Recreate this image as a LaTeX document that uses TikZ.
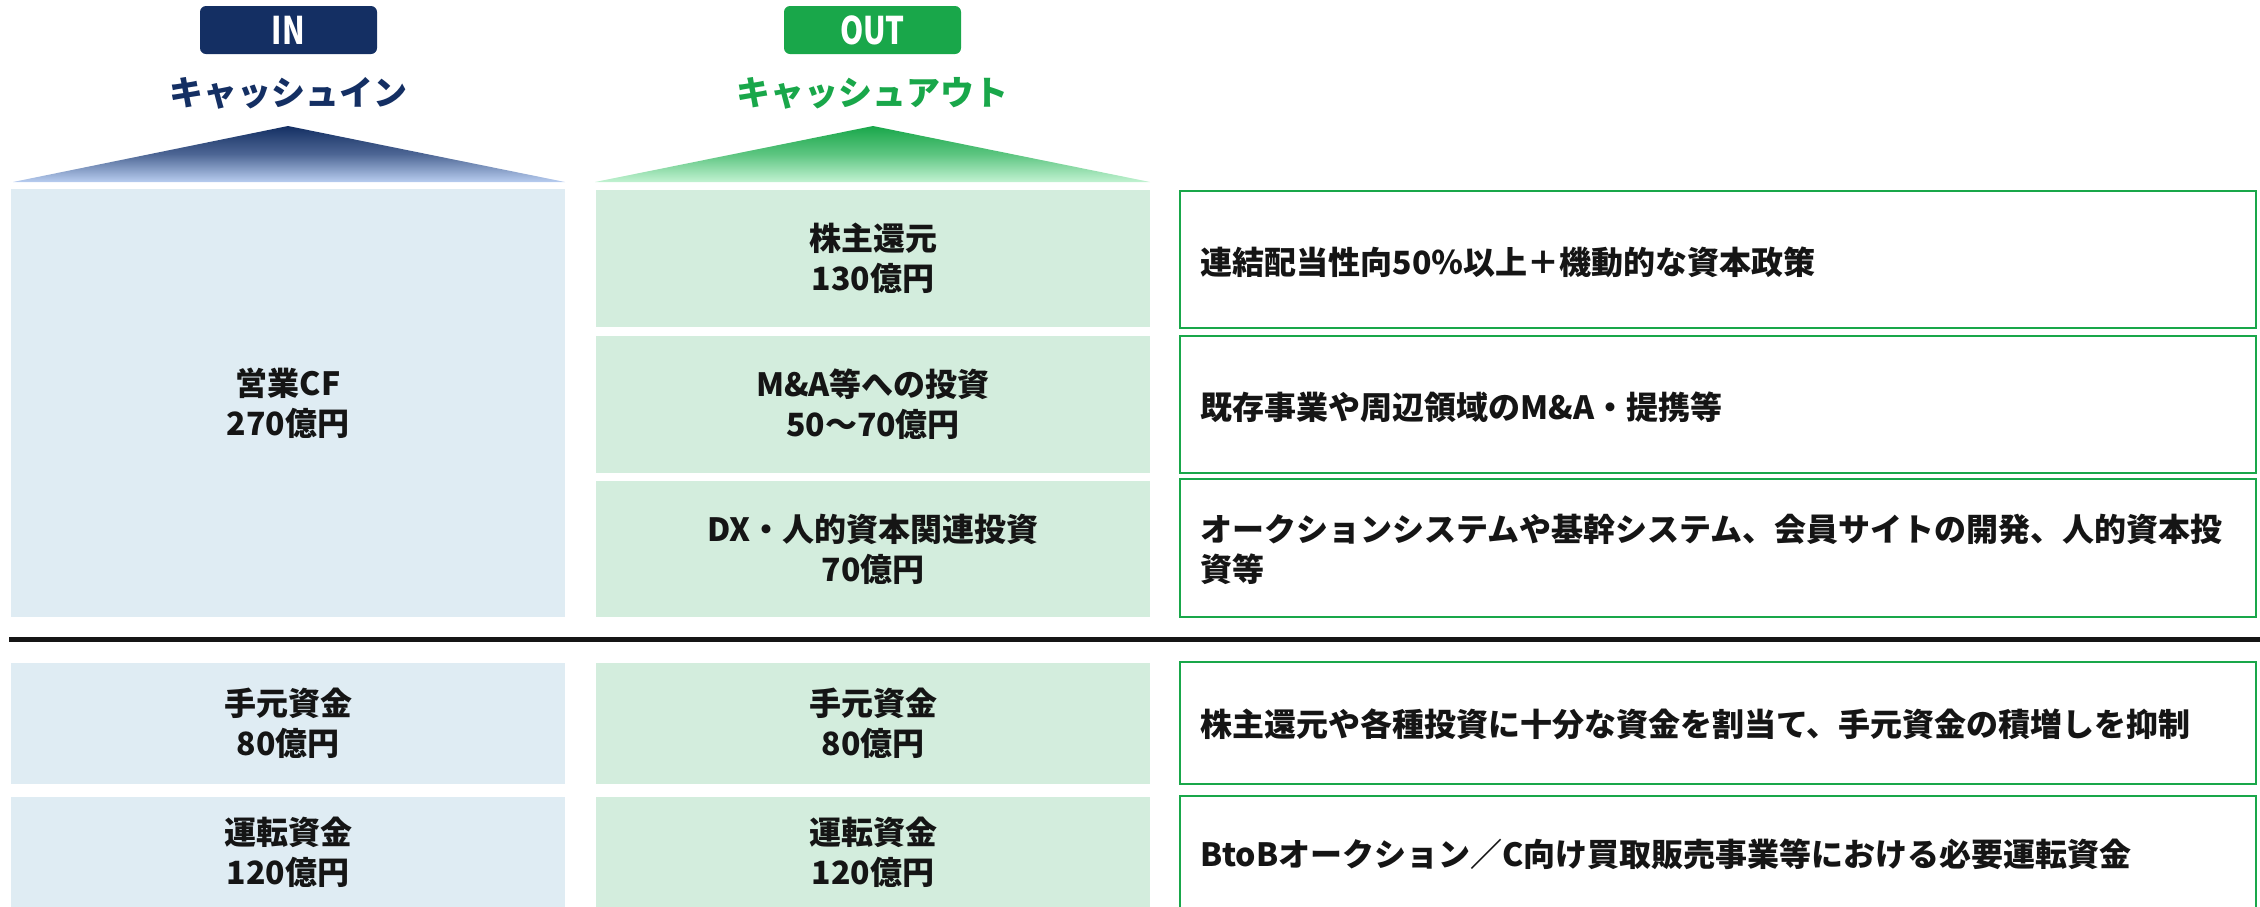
\documentclass[tikz,border=0pt]{standalone}
\usepackage{fontspec}
\setmainfont{Noto Sans CJK JP}
\usetikzlibrary{positioning}
\definecolor{navy}{HTML}{142F63}
\definecolor{grn}{HTML}{19A74A}
\definecolor{lblue}{HTML}{DFECF3}
\definecolor{lgreen}{HTML}{D3EDDD}
\definecolor{tblue}{HTML}{B8CDF0}
\definecolor{tgreen}{HTML}{C2F2D2}
\definecolor{ink}{HTML}{151515}
\tikzset{
  txt/.style={font=\fontsize{32}{40}\selectfont\bfseries, text=ink},
  inbox/.style={txt, fill=lblue, inner sep=0pt, align=center},
  outbox/.style={txt, fill=lgreen, inner sep=0pt, align=center},
  notebox/.style={draw=grn, line width=2.5pt, fill=white, inner sep=0pt},
  notetext/.style={txt, align=left, anchor=west},
  badge/.style={rounded corners=6pt, inner sep=0pt, minimum width=177pt, minimum height=48pt, text=white, font=\fontsize{38}{38}\selectfont\bfseries},
  heading/.style={font=\fontsize{34}{34}\selectfont\bfseries},
}
\begin{document}
\begin{tikzpicture}[x=1pt,y=-1pt]
\useasboundingbox (0,0) rectangle (2260,906);
\begin{scope}
\clip (0,0) rectangle (2260,906);
% badges
\node[badge, fill=navy] (inb) at (288.5,30) {\scalebox{0.78}[1]{IN}};
\node[badge, fill=grn] (outb) at (872.5,30) {\scalebox{0.78}[1]{OUT}};
\node[heading, text=navy] (inh) at (288.5,93) {キャッシュイン};
\node[heading, text=grn] (outh) at (872.5,93) {キャッシュアウト};
% triangles
\shade[top color=navy, bottom color=tblue, middle color=navy!65!tblue] (288,126) -- (565,182) -- (13,182) -- cycle;
\shade[top color=grn, bottom color=tgreen, middle color=grn!60!tgreen] (873,126) -- (1150,182) -- (595,182) -- cycle;
% IN column
\node[inbox, minimum width=554pt, minimum height=428pt] (cf) at (288,403) {営業CF\\270億円};
% OUT column
\node[outbox, minimum width=554pt, minimum height=137pt] (o1) at (873,258.5) {株主還元\\130億円};
\node[outbox, minimum width=554pt, minimum height=137pt] (o2) at (873,404.5) {M\&A等への投資\\50〜70億円};
\node[outbox, minimum width=554pt, minimum height=136pt] (o3) at (873,549) {DX・人的資本関連投資\\70億円};
% notes
\node[notebox, minimum width=1076pt, minimum height=137pt] (n1) at (1718,259.5) {};
\node[notetext] at (1197,262) {連結配当性向50％以上＋機動的な資本政策};
\node[notebox, minimum width=1076pt, minimum height=137pt] (n2) at (1718,404.5) {};
\node[notetext] at (1197,407) {既存事業や周辺領域のM\&A・提携等};
\node[notebox, minimum width=1076pt, minimum height=138pt] (n3) at (1718,548) {};
\node[notetext] at (1197,549) {オークションシステムや基幹システム、会員サイトの開発、人的資本投\\資等};
% separator
\coordinate (sepL) at (9,639);
\coordinate (sepR) at (2262,639);
\draw[line width=5pt, draw=ink] (sepL) -- (sepR);
% bottom rows
\node[inbox, minimum width=554pt, minimum height=121pt] (i4) at (288,723.5) {手元資金\\80億円};
\node[outbox, minimum width=554pt, minimum height=121pt] (o4) at (873,723.5) {手元資金\\80億円};
\node[notebox, minimum width=1076pt, minimum height=122pt] (n4) at (1718,723) {};
\node[notetext] at (1197,724) {株主還元や各種投資に十分な資金を割当て、手元資金の積増しを抑制};
\node[inbox, minimum width=554pt, minimum height=110pt] (i5) at (288,852) {運転資金\\120億円};
\node[outbox, minimum width=554pt, minimum height=110pt] (o5) at (873,852) {運転資金\\120億円};
\node[notebox, minimum width=1076pt, minimum height=114pt] (n5) at (1718,853) {};
\node[notetext] at (1197,854) {BtoBオークション／C向け買取販売事業等における必要運転資金};
\end{scope}
\end{tikzpicture}
\end{document}
